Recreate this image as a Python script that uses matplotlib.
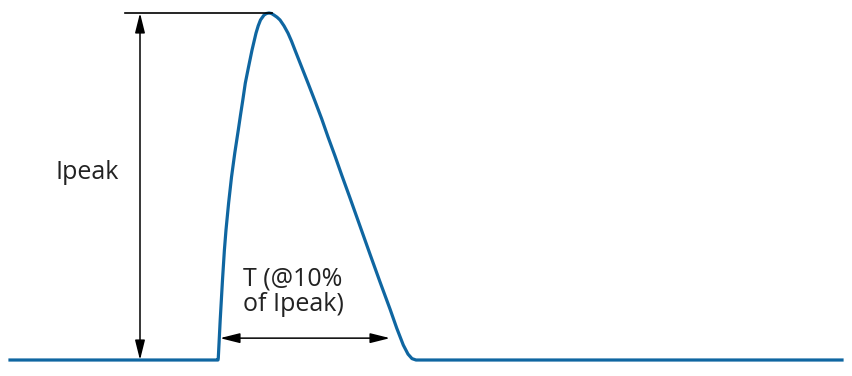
import matplotlib
matplotlib.use("Agg")
import matplotlib.pyplot as plt
import numpy as np

# pulse shape: time (arb. units, 0 = pulse start), current / Ipeak
time = [-208, 0, 0.3, 2.2, 4.5, 6.4, 8, 10.6, 13.5, 16.8, 20.3, 22.5, 24.8, 27.3,
        30.5, 34, 38, 40.2, 42.5, 46, 48.5, 51, 53.5, 56, 59, 62, 66, 70, 73.5,
        77, 83.7, 90, 97, 103.7, 110, 117, 123.7, 132, 142, 152, 162, 172, 178.7,
        185.3, 190, 194, 198, 624]
current = [0, 0, 0.006, 0.115, 0.231, 0.317, 0.375, 0.452, 0.527, 0.597, 0.663,
           0.706, 0.749, 0.798, 0.844, 0.893, 0.942, 0.963, 0.980, 0.994, 0.9986,
           1.0, 0.9986, 0.994, 0.988, 0.980, 0.963, 0.942, 0.919, 0.893, 0.844,
           0.798, 0.746, 0.695, 0.643, 0.588, 0.533, 0.467, 0.386, 0.305, 0.225,
           0.147, 0.092, 0.043, 0.017, 0.004, 0, 0]

peak_label = "Ipeak"
width_label = "T (@10%\nof Ipeak)"

plt.rcParams['font.family'] = ['Open Sans', 'DejaVu Sans']

fig = plt.figure(figsize=(8.52, 3.76), dpi=100)
ax = fig.add_axes([0, 0, 1, 1])
ax.plot(time, current, color='#0f66a1', lw=2.3, solid_joinstyle='round')
ax.set_xlim(-218, 634)
ax.set_ylim(-0.0461, 1.0375)
ax.axis('off')

ipeak = max(current)
t_peak = time[current.index(ipeak)]

# top reference line at peak level
ax.plot([-93, t_peak + 3], [ipeak, ipeak], color='black', lw=1.2)

arrow = dict(arrowstyle='<|-|>,head_length=0.8,head_width=0.2', mutation_scale=15,
             color='black', lw=1.1, shrinkA=0, shrinkB=0)
# Ipeak arrow
ax.annotate('', xy=(-78, ipeak), xytext=(-78, 0), arrowprops=arrow)
ax.text(-131, 0.54, peak_label, ha='center', va='center', fontsize=18, color='#222222')

# pulse width arrow
ax.annotate('', xy=(2, 0.063), xytext=(172, 0.063), arrowprops=arrow)
ax.text(75, 0.196, width_label, ha='center', va='center', fontsize=18,
        color='#222222', linespacing=1.05)

plt.savefig("out.png", dpi=100)
